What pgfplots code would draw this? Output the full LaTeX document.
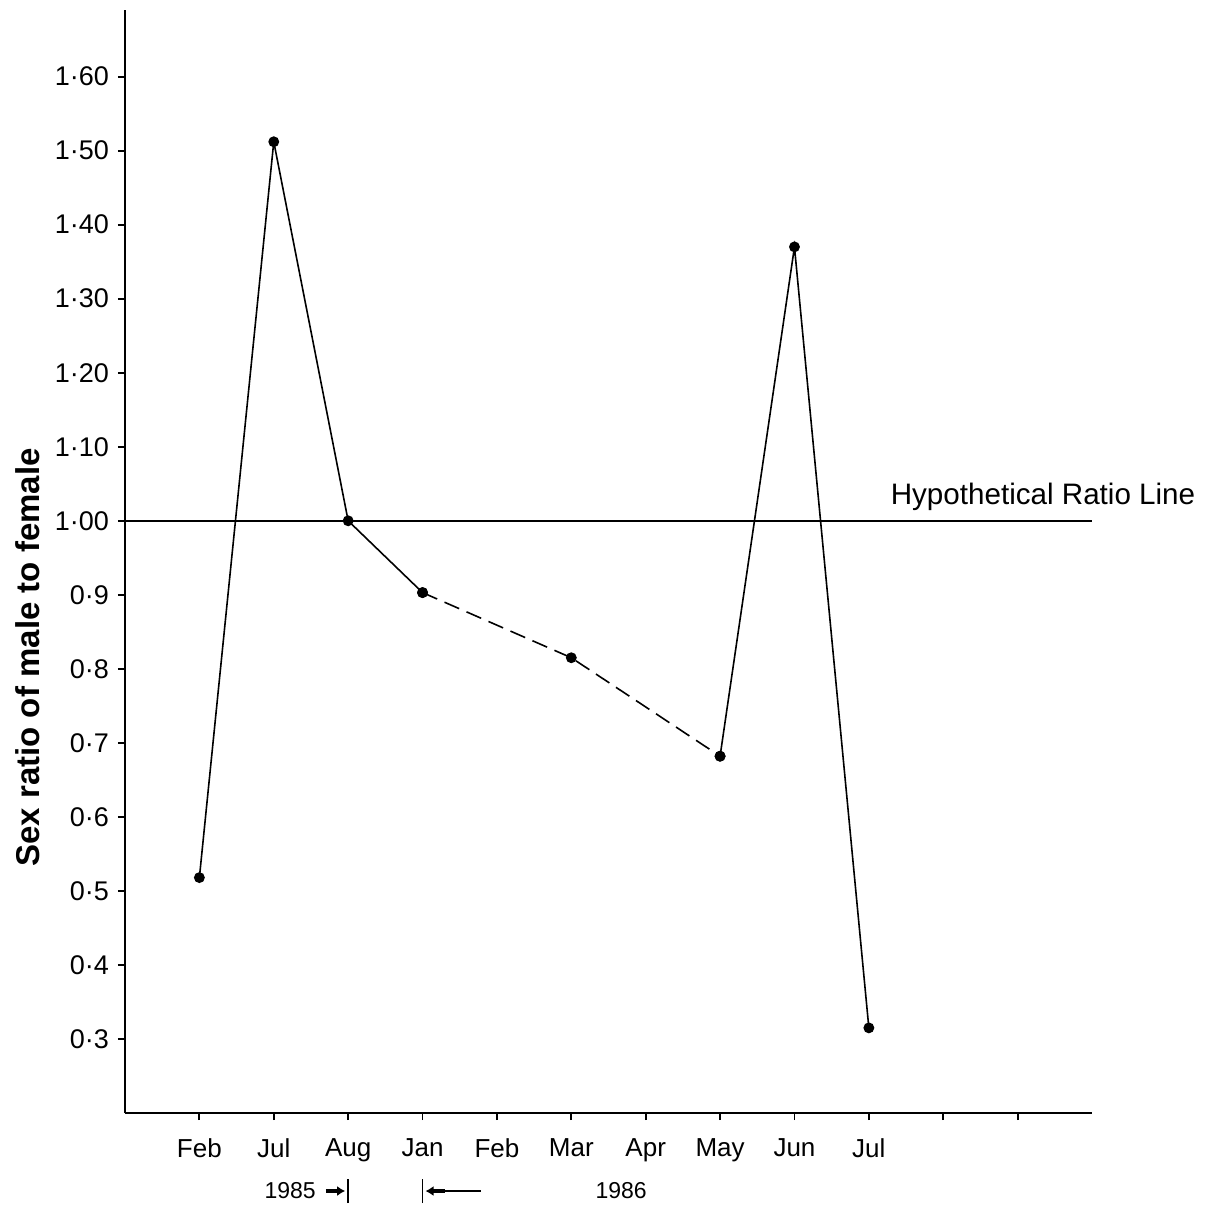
\documentclass[border=0pt]{standalone}
\usepackage{fontspec}
\setmainfont{Liberation Sans}
\usepackage{pgfplots}
\pgfplotsset{compat=1.18}
\usetikzlibrary{arrows.meta}

\begin{document}
\begin{tikzpicture}
\path[use as bounding box] (-62.5pt,-46.5pt) rectangle (545pt,556.5pt);
\begin{axis}[
  scale only axis,
  width=483.5pt, height=551.5pt,
  xmin=-1, xmax=12, ymin=0.2, ymax=1.69,
  axis x line*=bottom, axis y line*=left,
  axis line style={line width=1.3pt},
  xtick={0,1,2,3,4,5,6,7,8,9,10,11},
  xticklabels={Feb,Jul,Aug,Jan,Feb,Mar,Apr,May,Jun,Jul,{},{}},
  ytick={0.3,0.4,0.5,0.6,0.7,0.8,0.9,1.0,1.1,1.2,1.3,1.4,1.5,1.6},
  yticklabels={0·3,0·4,0·5,0·6,0·7,0·8,0·9,1·00,1·10,1·20,1·30,1·40,1·50,1·60},
  tick align=outside, major tick length=3.5pt,
  tick style={line width=0.9pt, black},
  xticklabel style={font=\fontsize{13}{15}\selectfont, yshift=-6pt},
  yticklabel style={font=\fontsize{13.5}{15}\selectfont, xshift=-1pt},
  every axis y label/.style={at={(axis description cs:0,0.413)}, xshift=-48.5pt,
    rotate=90, anchor=center, font=\fontsize{16.5}{18}\selectfont\bfseries},
  ylabel={Sex ratio of male to female},
  clip=false,
]
% hypothetical 1:1 ratio
\addplot[black, line width=0.8pt, no marks] coordinates {(-1,1) (12,1)};
\node[anchor=base west, font=\fontsize{14.8}{16}\selectfont, inner sep=0pt]
  at ([yshift=8pt]axis cs:9.29,1) {Hypothetical Ratio Line};

% observed sex ratio
\addplot[black, line width=0.8pt, mark=*, mark size=2.3pt]
  coordinates {(0,0.518) (1,1.512) (2,1.000) (3,0.903)};
\addplot[black, line width=0.8pt, dash pattern=on 8pt off 4pt,
  mark=*, mark size=2.3pt, mark options={solid}]
  coordinates {(3,0.903) (5,0.815) (7,0.682)};
\addplot[black, line width=0.8pt, mark=*, mark size=2.3pt]
  coordinates {(7,0.682) (8,1.370) (9,0.315)};

% year markers
\node[anchor=east, font=\fontsize{11.5}{13}\selectfont] at (axis cs:1.66,0.0946) {1985};
\draw[line width=1.6pt, -{Latex[length=4pt,width=5pt]}] (axis cs:1.70,0.0946) -- (axis cs:1.96,0.0946);
\draw[line width=0.8pt] ([yshift=-6pt]axis cs:2,0.0946) -- ([yshift=6pt]axis cs:2,0.0946);
\draw[line width=0.8pt] ([yshift=-6pt]axis cs:3,0.0946) -- ([yshift=6pt]axis cs:3,0.0946);
\draw[line width=1.6pt, -{Latex[length=4pt,width=5pt]}] (axis cs:3.30,0.0946) -- (axis cs:3.04,0.0946);
\draw[line width=0.8pt] (axis cs:3.30,0.0946) -- (axis cs:3.79,0.0946);
\node[font=\fontsize{11.5}{13}\selectfont] at (axis cs:5.67,0.0946) {1986};
\end{axis}
\end{tikzpicture}
\end{document}
